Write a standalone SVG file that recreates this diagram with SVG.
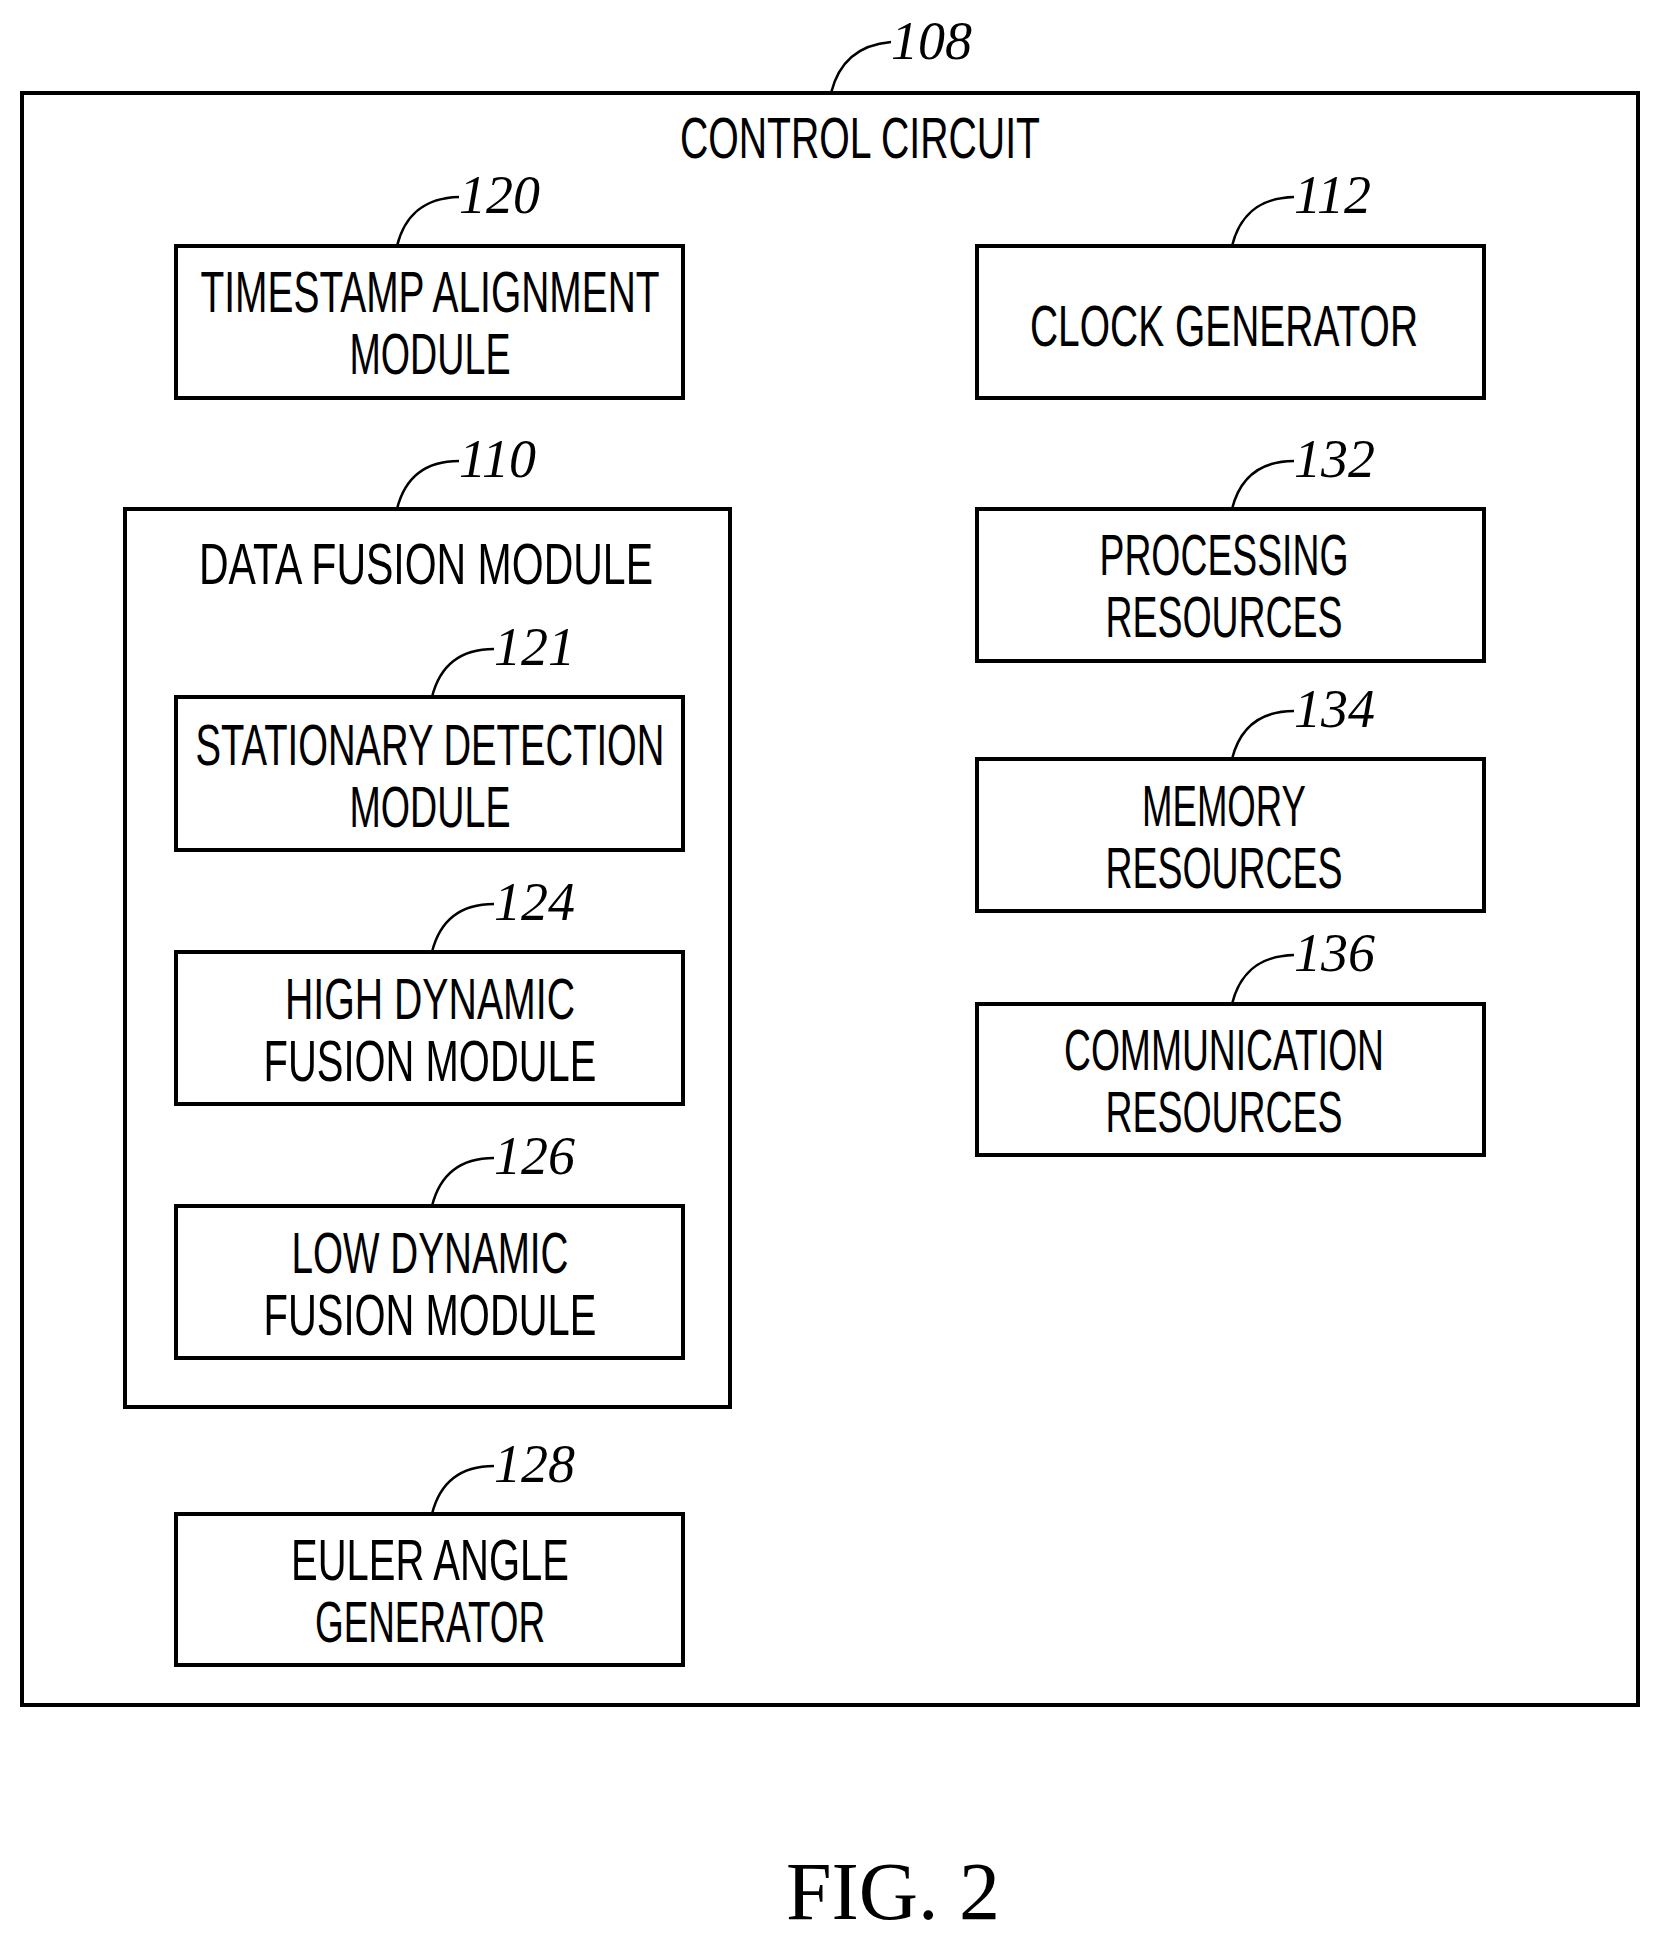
<svg xmlns="http://www.w3.org/2000/svg" width="1663" height="1949" viewBox="0 0 1663 1949">
<style>
rect{fill:none;stroke:#000;stroke-width:4}
path{fill:none;stroke:#000;stroke-width:2.5}
.t{font-family:"Liberation Sans",Arial,sans-serif;font-size:58px;text-anchor:middle}
.n{font-family:"Liberation Serif","Times New Roman",serif;font-style:italic;font-size:54px}
.f{font-family:"Liberation Serif","Times New Roman",serif;font-size:82px;text-anchor:middle}
</style>
<rect width="1663" height="1949" style="fill:#fff;stroke:none"/>
<g id="n108"><rect x="22" y="93" width="1616" height="1612"/>
<text class="t" x="860" y="158" textLength="360" lengthAdjust="spacingAndGlyphs">CONTROL  CIRCUIT</text>
<text class="n" x="891" y="59">108</text></g>
<g id="n120"><rect x="176" y="246" width="507" height="152"/>
<text class="t" x="430" y="312" textLength="459" lengthAdjust="spacingAndGlyphs">TIMESTAMP  ALIGNMENT</text>
<text class="t" x="430" y="374" textLength="161" lengthAdjust="spacingAndGlyphs">MODULE</text>
<text class="n" x="459" y="213">120</text></g>
<g id="n112"><rect x="977" y="246" width="507" height="152"/>
<text class="t" x="1224" y="346" textLength="388" lengthAdjust="spacingAndGlyphs">CLOCK  GENERATOR</text>
<text class="n" x="1294" y="213">112</text></g>
<g id="n110"><rect x="125" y="509" width="605" height="898"/>
<text class="t" x="426" y="584" textLength="454" lengthAdjust="spacingAndGlyphs">DATA  FUSION  MODULE</text>
<text class="n" x="459" y="477">110</text></g>
<g id="n121"><rect x="176" y="697" width="507" height="153"/>
<text class="t" x="430" y="765" textLength="469" lengthAdjust="spacingAndGlyphs">STATIONARY  DETECTION</text>
<text class="t" x="430" y="827" textLength="161" lengthAdjust="spacingAndGlyphs">MODULE</text>
<text class="n" x="494" y="665">121</text></g>
<g id="n124"><rect x="176" y="952" width="507" height="152"/>
<text class="t" x="430" y="1019" textLength="290" lengthAdjust="spacingAndGlyphs">HIGH  DYNAMIC</text>
<text class="t" x="430" y="1081" textLength="333" lengthAdjust="spacingAndGlyphs">FUSION  MODULE</text>
<text class="n" x="494" y="920">124</text></g>
<g id="n126"><rect x="176" y="1206" width="507" height="152"/>
<text class="t" x="430" y="1273" textLength="277" lengthAdjust="spacingAndGlyphs">LOW  DYNAMIC</text>
<text class="t" x="430" y="1335" textLength="333" lengthAdjust="spacingAndGlyphs">FUSION  MODULE</text>
<text class="n" x="494" y="1174">126</text></g>
<g id="n128"><rect x="176" y="1514" width="507" height="151"/>
<text class="t" x="430" y="1580" textLength="278" lengthAdjust="spacingAndGlyphs">EULER  ANGLE</text>
<text class="t" x="430" y="1642" textLength="230" lengthAdjust="spacingAndGlyphs">GENERATOR</text>
<text class="n" x="494" y="1482">128</text></g>
<g id="n132"><rect x="977" y="509" width="507" height="152"/>
<text class="t" x="1224" y="575" textLength="249" lengthAdjust="spacingAndGlyphs">PROCESSING</text>
<text class="t" x="1224" y="637" textLength="237" lengthAdjust="spacingAndGlyphs">RESOURCES</text>
<text class="n" x="1294" y="477">132</text></g>
<g id="n134"><rect x="977" y="759" width="507" height="152"/>
<text class="t" x="1224" y="826" textLength="164" lengthAdjust="spacingAndGlyphs">MEMORY</text>
<text class="t" x="1224" y="888" textLength="237" lengthAdjust="spacingAndGlyphs">RESOURCES</text>
<text class="n" x="1294" y="727">134</text></g>
<g id="n136"><rect x="977" y="1004" width="507" height="151"/>
<text class="t" x="1224" y="1070" textLength="320" lengthAdjust="spacingAndGlyphs">COMMUNICATION</text>
<text class="t" x="1224" y="1132" textLength="237" lengthAdjust="spacingAndGlyphs">RESOURCES</text>
<text class="n" x="1294" y="971">136</text></g>
<g id="connectors">
<path d="M831 93 C838 65 855 45 891 42"/>
<path d="M397 246 C404 218 421 198 459 197"/>
<path d="M1232 246 C1239 218 1256 198 1294 197"/>
<path d="M397 509 C404 481 421 461 459 461"/>
<path d="M1232 509 C1239 481 1256 461 1294 461"/>
<path d="M432 697 C439 669 456 649 494 649"/>
<path d="M432 952 C439 924 456 904 494 904"/>
<path d="M432 1206 C439 1178 456 1158 494 1158"/>
<path d="M432 1514 C439 1486 456 1466 494 1466"/>
<path d="M1232 759 C1239 731 1256 711 1294 711"/>
<path d="M1232 1004 C1239 976 1256 956 1294 955"/>
</g>
<text class="f" x="893" y="1919">FIG. 2</text>
</svg>
